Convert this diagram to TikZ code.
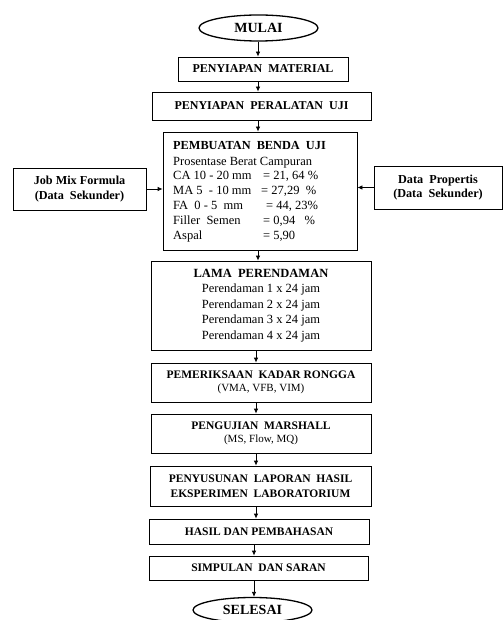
\documentclass[tikz,border=0pt]{standalone}
\usepackage{fontspec}
\setmainfont{Liberation Serif}
\usetikzlibrary{arrows.meta,shapes.geometric}
\begin{document}
\begin{tikzpicture}[x=1pt,y=-1pt,
  box/.style={draw,line width=0.8pt,inner sep=0pt,align=center},
  oval/.style={draw,ellipse,line width=1.3pt,inner sep=0pt,font=\fontsize{14}{16}\selectfont\bfseries},
  arr/.style={line width=0.8pt,-{Latex[length=5pt,width=4.5pt]}},
  hd/.style={font=\fontsize{12}{14}\selectfont\bfseries},
  hdl/.style={font=\fontsize{11.5}{13}\selectfont\bfseries},
  sb/.style={font=\fontsize{12.2}{14.5}\selectfont\bfseries}]
\useasboundingbox (0,0) rectangle (503,620);
\fill[white] (0,0) rectangle (503,620);

\node[oval,minimum width=119pt,minimum height=26pt] (mulai) at (258.5,28) {MULAI};
\node[box,hd,minimum width=170pt,minimum height=24pt] (mat) at (263,69) {PENYIAPAN\ \ MATERIAL};
\node[box,hd,minimum width=219pt,minimum height=28pt] (alat) at (261.5,106) {PENYIAPAN\ \ PERALATAN\ \ UJI};
\node[box,minimum width=194pt,minimum height=118pt] (benda) at (260,191) {};
\node[anchor=north west,inner sep=0pt,align=left,font=\fontsize{12.5}{14.8}\selectfont] (bendatxt) at (173,141)
  {{\fontsize{12.3}{14.8}\selectfont\bfseries PEMBUATAN\ \ BENDA\ \ UJI}\\[1pt]
   Prosentase Berat Campuran\\
   \makebox[90pt][l]{CA 10 - 20 mm}= 21, 64 \%\\
   \makebox[88pt][l]{MA 5\ \ - 10 mm}= 27,29\ \ \%\\
   \makebox[93pt][l]{FA\ \ 0 - 5\ \ mm}= 44, 23\%\\
   \makebox[90pt][l]{Filler\ \ Semen}= 0,94\ \ \ \%\\
   \makebox[90pt][l]{Aspal}= 5,90};
\node[box,sb,minimum width=133pt,minimum height=42pt] (jmf) at (79.5,189) {Job\ Mix\ Formula\\(Data\ \ Sekunder)};
\node[box,sb,minimum width=128pt,minimum height=43pt] (dp) at (438,187.5) {Data\ \ Propertis\\(Data\ \ Sekunder)};
\node[box,minimum width=220pt,minimum height=89pt,font=\fontsize{12.5}{15.5}\selectfont] (lama) at (261,305.5)
  {\textbf{LAMA\ \ PERENDAMAN}\\Perendaman 1 x 24 jam\\Perendaman 2 x 24 jam\\Perendaman 3 x 24 jam\\Perendaman 4 x 24 jam};
\node[box,minimum width=220pt,minimum height=39pt,font=\fontsize{11}{13.5}\selectfont] (periksa) at (261,382.5)
  {\textbf{\fontsize{11.5}{13.5}\selectfont PEMERIKSAAN\ \ KADAR\ RONGGA}\\(VMA, VFB, VIM)};
\node[box,minimum width=220pt,minimum height=39pt,font=\fontsize{11}{13.5}\selectfont] (marshall) at (261,433.5)
  {\textbf{\fontsize{11.5}{13.5}\selectfont PENGUJIAN\ \ MARSHALL}\\(MS, Flow, MQ)};
\node[box,minimum width=221pt,minimum height=40pt,font=\fontsize{11.5}{15}\selectfont\bfseries] (susun) at (260.5,486)
  {PENYUSUNAN\ \ LAPORAN\ \ HASIL\\EKSPERIMEN\ \ LABORATORIUM};
\node[box,hdl,minimum width=220pt,minimum height=25pt] (hasil) at (259,531.5) {HASIL DAN PEMBAHASAN};
\node[box,hdl,minimum width=219pt,minimum height=24pt] (simpul) at (258.5,568) {SIMPULAN\ \ DAN SARAN};
\node[oval,minimum width=119pt,minimum height=25pt] (selesai) at (252.5,610) {SELESAI};

\coordinate (xa) at (258,0);
\coordinate (xb) at (256,0);
\coordinate (xc) at (254,0);
\draw[arr] (mulai.south -| xa) -- (mat.north -| xa);
\draw[arr] (mat.south -| xa) -- (alat.north -| xa);
\draw[arr] (alat.south -| xa) -- (benda.north -| xa);
\draw[arr] (benda.south -| xa) -- (lama.north -| xa);
\draw[arr] (lama.south -| xb) -- (periksa.north -| xb);
\draw[arr] (periksa.south -| xb) -- (marshall.north -| xb);
\draw[arr] (marshall.south -| xb) -- (susun.north -| xb);
\draw[arr] (susun.south -| xb) -- (hasil.north -| xb);
\draw[arr] (hasil.south -| xc) -- (simpul.north -| xc);
\draw[arr] (simpul.south -| xc) -- (selesai.north -| xc);
\draw[arr] (jmf.east) -- (jmf.east -| benda.west);
\draw[arr] (dp.west) -- (dp.west -| benda.east);
\end{tikzpicture}
\end{document}
